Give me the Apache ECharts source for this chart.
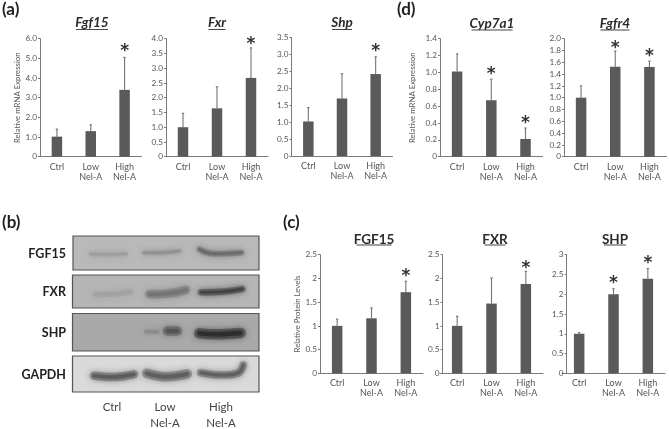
<!DOCTYPE html>
<html><head><meta charset="utf-8">
<style>html,body{margin:0;padding:0;background:#fff}#c{width:669px;height:429px}canvas{filter:blur(0.35px)}</style>
<script src="https://cdn.jsdelivr.net/npm/echarts@6/dist/echarts.min.js"></script>
</head><body><div id="c"></div>
<script>
const categories = ['Ctrl', 'Low\nNel-A', 'High\nNel-A'];

const fgf15Mrna = [1.02, 1.30, 3.40];
const fgf15MrnaUpper = [1.40, 1.62, 5.05];
const fgf15MrnaStars = [null, null, 5.54];

const fxrMrna = [1.0, 1.64, 2.67];
const fxrMrnaUpper = [1.47, 2.37, 3.69];
const fxrMrnaStars = [null, null, 3.93];

const shpMrna = [1.02, 1.70, 2.42];
const shpMrnaUpper = [1.43, 2.43, 2.93];
const shpMrnaStars = [null, null, 3.2];

const cyp7a1Mrna = [1.01, 0.67, 0.21];
const cyp7a1MrnaUpper = [1.22, 0.92, 0.34];
const cyp7a1MrnaStars = [null, 1.02, 0.435];

const fgfr4Mrna = [1.0, 1.525, 1.52];
const fgfr4MrnaUpper = [1.2, 1.79, 1.62];
const fgfr4MrnaStars = [null, 1.90, 1.76];

const fgf15Protein = [1.0, 1.16, 1.71];
const fgf15ProteinUpper = [1.14, 1.38, 1.94];
const fgf15ProteinStars = [null, null, 2.11];

const fxrProtein = [1.0, 1.47, 1.88];
const fxrProteinUpper = [1.2, 2.01, 2.15];
const fxrProteinStars = [null, null, 2.28];

const shpProtein = [1.0, 2.0, 2.39];
const shpProteinUpper = [1.03, 2.14, 2.65];
const shpProteinStars = [null, 2.36, 2.86];

const blotRows = ['FGF15', 'FXR', 'SHP', 'GAPDH'];
const blotLanes = ['Ctrl', 'Low\nNel-A', 'High\nNel-A'];

const FONT = 'Lato, "Open Sans", sans-serif';
const INK = '#555555';

const panels = [
 {t:'Fgf15', it:1, tx:92, ty:23, uw:32, uy:29.5, l:40, w:101.5, ax:40, top:38.7, h:118, max:6, step:1, dec:1, v:fgf15Mrna, u:fgf15MrnaUpper, s:fgf15MrnaStars, name:'Relative mRNA Expression', gap:18},
 {t:'Fxr', it:1, tx:217, ty:23, uw:17, uy:29.5, l:166, w:102, ax:166, top:38.7, h:118, max:4, step:0.5, dec:1, v:fxrMrna, u:fxrMrnaUpper, s:fxrMrnaStars},
 {t:'Shp', it:1, tx:342, ty:23, uw:20, uy:29.5, l:291.5, w:101, ax:291.5, top:37.5, h:118.5, max:3.5, step:0.5, dec:1, v:shpMrna, u:shpMrnaUpper, s:shpMrnaStars},
 {t:'Cyp7a1', it:1, tx:492, ty:24, uw:41, uy:30, l:440, w:102.6, ax:440, top:38.7, h:118, max:1.4, step:0.2, dec:1, v:cyp7a1Mrna, u:cyp7a1MrnaUpper, s:cyp7a1MrnaStars, name:'Relative mRNA Expression', gap:24},
 {t:'Fgfr4', it:1, tx:615, ty:24, uw:29, uy:30, l:564, w:102.5, ax:564, top:38.7, h:118, max:2, step:0.2, dec:1, v:fgfr4Mrna, u:fgfr4MrnaUpper, s:fgfr4MrnaStars},
 {t:'FGF15', it:0, tx:374, ty:239.5, uw:35, uy:245, l:320, w:103, ax:320, top:254.7, h:118.6, max:2.5, step:0.5, dec:0, v:fgf15Protein, u:fgf15ProteinUpper, s:fgf15ProteinStars, name:'Relative Protein Levels', gap:18},
 {t:'FXR', it:0, tx:495, ty:239.5, uw:21, uy:245, l:440, w:103, ax:442.5, top:254.7, h:118.6, max:2.5, step:0.5, dec:0, v:fxrProtein, u:fxrProteinUpper, s:fxrProteinStars},
 {t:'SHP', it:0, tx:615, ty:239.5, uw:22, uy:245, l:562, w:103, ax:566.5, top:254.7, h:118.6, max:3, step:0.5, dec:0, v:shpProtein, u:shpProteinUpper, s:shpProteinStars}
];

const grid=[], xAxis=[], yAxis=[], series=[], graphic=[];
const axisLine = {show:true, lineStyle:{color:'#7a7a7a', width:1}};
panels.forEach((p,i)=>{
  grid.push({left:p.l, top:p.top, width:p.w, height:p.h, containLabel:false});
  xAxis.push({type:'category', gridIndex:i, data:categories, axisLine, axisTick:{show:false},
    axisLabel:{color:INK, fontFamily:FONT, fontSize:9, lineHeight:10, margin:5, interval:0}});
  yAxis.push({type:'value', gridIndex:i, min:0, max:p.max, interval:p.step, offset:p.l-p.ax,
    splitLine:{show:false}, axisLine, axisTick:{show:true, length:2, lineStyle:{color:'#7a7a7a'}},
    axisLabel:{color:INK, fontFamily:FONT, fontSize:8.2, margin:3,
      formatter:v=>v===0?'0':(p.dec?v.toFixed(p.dec):String(v))},
    name:p.name||'', nameLocation:'middle', nameGap:p.gap||0,
    nameTextStyle:{color:INK, fontFamily:FONT, fontSize:7.8}});
  series.push({type:'bar', xAxisIndex:i, yAxisIndex:i, data:p.v, barWidth:10.5, silent:true,
    itemStyle:{color:'#5a5a5a'}, animation:false});
  series.push({type:'custom', xAxisIndex:i, yAxisIndex:i, silent:true, animation:false,
    data:p.v.map((v,k)=>[k,v,p.u[k]]),
    encode:{x:0,y:[1,2]},
    renderItem:(params,api)=>{
      const a=api.coord([api.value(0),api.value(1)]), b=api.coord([api.value(0),api.value(2)]);
      const st={stroke:'#747474',lineWidth:1.1};
      return {type:'group',children:[
        {type:'line',shape:{x1:a[0],y1:a[1],x2:b[0],y2:b[1]},style:st},
        {type:'line',shape:{x1:a[0]-1.2,y1:b[1],x2:a[0]+1.2,y2:b[1]},style:st}]};
    }});
  series.push({type:'custom', xAxisIndex:i, yAxisIndex:i, silent:true, animation:false,
    data:p.s.map((v,k)=>[k,v]).filter(d=>d[1]!==null),
    encode:{x:0,y:1},
    renderItem:(params,api)=>{
      const c=api.coord([api.value(0),api.value(1)]);
      return {type:'text',style:{text:'*',x:c[0],y:c[1]+3.5,align:'center',verticalAlign:'middle',
        font:'bold 17px "DejaVu Sans"',fill:'#333'}};
    }});
  graphic.push({type:'text',z:5,style:{text:p.t,x:p.tx,y:p.ty,align:'center',verticalAlign:'middle',
    font:`${p.it?'italic ':''}bold 13.5px ${FONT}`,fill:'#2b2b2b'}});
  graphic.push({type:'line',z:5,shape:{x1:p.tx-p.uw/2,y1:p.uy,x2:p.tx+p.uw/2,y2:p.uy},style:{stroke:'#444',lineWidth:1}});
});

[['(a)',2,10],['(d)',397,10],['(b)',2,223],['(c)',283,223]].forEach(t=>
  graphic.push({type:'text',z:5,style:{text:t[0],x:t[1],y:t[2],align:'left',verticalAlign:'middle',
    font:`bold 17px ${FONT}`,fill:'#222'}}));

/* western blot picture */
const strips=[
 {x:73,y:236,w:186,h:34,bg:'#b9b9b9',ly:254},
 {x:72.5,y:275,w:186.5,h:33,bg:'#b5b5b5',ly:292},
 {x:72.5,y:313.5,w:186.5,h:37.5,bg:'#a9a9a9',ly:333},
 {x:72.5,y:356,w:186.5,h:36,bg:'#dadada',ly:375}];
strips.forEach((s,i)=>{
  graphic.push({type:'rect',z:1,shape:{x:s.x,y:s.y,width:s.w,height:s.h},style:{fill:s.bg,stroke:'#555',lineWidth:1.2}});
  graphic.push({type:'text',z:5,style:{text:blotRows[i],x:66,y:s.ly,align:'right',verticalAlign:'middle',
    font:`bold 12.5px ${FONT}`,fill:'#222'}});
});
function band(pts,w,color){
  graphic.push({type:'polyline',z:2,shape:{points:pts,smooth:0.4},
    style:{fill:null,stroke:color,opacity:0.45,lineWidth:w*1.9,lineCap:'round',shadowBlur:6,shadowColor:color}});
  graphic.push({type:'polyline',z:3,shape:{points:pts,smooth:0.4},
    style:{fill:null,stroke:color,opacity:0.75,lineWidth:w*0.8,lineCap:'round',shadowBlur:4,shadowColor:color}});
}
const zx=x=>70+x/3, zA=y=>230+y/3, zB=y=>305+y/3;
band([[zx(62),zA(72)],[zx(120),zA(73)],[zx(168),zA(72)]],2.5,'#9b9b9b');
band([[zx(222),zA(68)],[zx(280),zA(68)],[zx(328),zA(63)]],2.5,'#8e8e8e');
band([[zx(388),zA(58)],[zx(420),zA(70)],[zx(480),zA(70)],[zx(515),zA(68)]],3,'#646464');
band([[zx(75),zA(193)],[zx(130),zA(192)],[zx(182),zA(186)]],3,'#a0a0a0');
band([[zx(238),zA(193)],[zx(300),zA(190)],[zx(348),zA(180)]],4.5,'#727272');
band([[zx(393),zA(187)],[zx(460),zA(185)],[zx(517),zA(177)]],3.5,'#3c3c3c');
band([[zx(228),zB(80)],[zx(262),zB(80)]],2.5,'#888888');
band([[zx(292),zB(78)],[zx(322),zB(78)]],5,'#505050');
band([[zx(388),zB(85)],[zx(440),zB(88)],[zx(512),zB(84)]],5.5,'#292929');
band([[zx(72),zB(212)],[zx(135),zB(216)],[zx(192),zB(208)]],4.5,'#555555');
band([[zx(230),zB(205)],[zx(285),zB(215)],[zx(352),zB(207)]],5,'#5a5a5a');
band([[zx(392),zB(203)],[zx(450),zB(210)],[zx(505),zB(204)],[zx(520),zB(180)]],4,'#5a5a5a');

['Ctrl','Low','High'].forEach((t,k)=>{
  const parts=blotLanes[k].split('\n'), cx=[112,165,221][k];
  graphic.push({type:'text',z:5,style:{text:parts[0],x:cx,y:407,align:'center',verticalAlign:'middle',font:`11.5px ${FONT}`,fill:'#444'}});
  if(parts[1]) graphic.push({type:'text',z:5,style:{text:parts[1],x:cx,y:423,align:'center',verticalAlign:'middle',font:`11.5px ${FONT}`,fill:'#444'}});
});

const chart=echarts.init(document.getElementById('c'),null,{renderer:'canvas'});
chart.setOption({animation:false,backgroundColor:'#fff',grid,xAxis,yAxis,series,graphic:{elements:graphic}});
</script></body></html>
